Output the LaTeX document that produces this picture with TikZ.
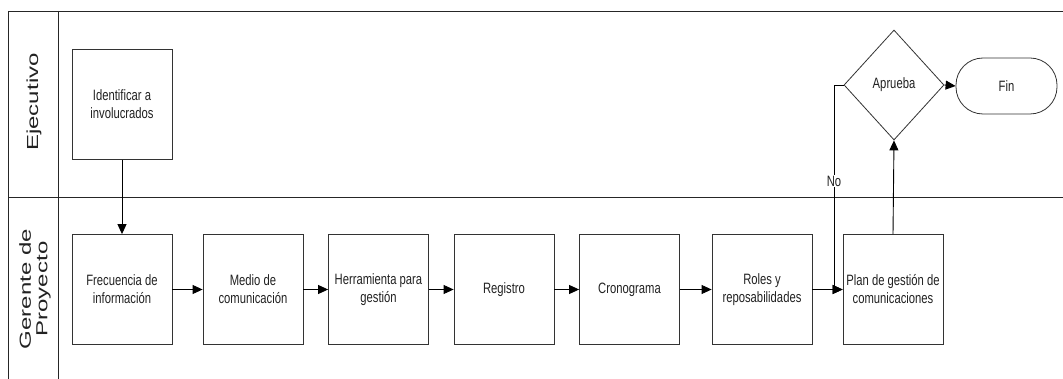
\documentclass[tikz,border=0pt]{standalone}
\usepackage{fontspec}
\setmainfont{Liberation Sans}
\newfontfamily\narrowfont[FakeStretch=0.75]{Liberation Sans}
\newfontfamily\lanefont[FakeStretch=1.5]{Liberation Sans}
\usetikzlibrary{shapes.geometric,arrows.meta}
\definecolor{edgegray}{HTML}{333333}
\definecolor{txtgray}{HTML}{222222}
\tikzset{
  stepbox/.style={draw=edgegray, line width=0.8pt, minimum width=100pt, minimum height=110pt, inner sep=0pt,
    align=center, text=txtgray, font=\narrowfont\fontsize{15}{18}\selectfont},
  decisionbox/.style={draw=edgegray, line width=0.8pt, diamond, minimum width=100pt, minimum height=110pt, inner sep=0pt,
    align=center, text=txtgray, font=\narrowfont\fontsize{15}{18}\selectfont},
  endbox/.style={draw=edgegray, line width=0.8pt, rounded corners=27pt, minimum width=101pt, minimum height=56pt, inner sep=0pt,
    align=center, text=txtgray, font=\narrowfont\fontsize{15}{18}\selectfont},
  lanelabel/.style={rotate=90, align=center, text=txtgray, font=\lanefont\fontsize{16}{16.5}\selectfont},
  laneline/.style={draw=black!85, line width=0.9pt},
  flow/.style={draw=black, line width=0.9pt, -{Triangle[length=10pt,width=9pt]}},
  flowlabel/.style={fill=white, inner sep=1pt, text=txtgray, font=\narrowfont\fontsize{15}{18}\selectfont}
}
\begin{document}
\begin{tikzpicture}[x=1pt,y=-1pt]
\useasboundingbox (0,0) rectangle (1063,379);
\fill[white] (0,0) rectangle (1063,379);
% lanes
\coordinate (tl) at (8,11);
\coordinate (tr) at (1063,11);
\coordinate (bl) at (8,379);
\coordinate (hdt) at (58,11);
\coordinate (hdb) at (58,379);
\coordinate (ml) at (8,197);
\coordinate (mr) at (1063,197);
\draw[laneline] (tl) -- (tr);
\draw[laneline] (tl) -- (bl);
\draw[laneline] (hdt) -- (hdb);
\draw[laneline] (ml) -- (mr);
\node[lanelabel] (lane1) at (34,102) {Ejecutivo};
\node[lanelabel] (lane2) at (35,289) {Gerente de\\Proyecto};
% nodes
\node[stepbox] (ident) at (122,104.5) {Identificar a\\involucrados};
\node[stepbox] (frec) at (122,289.5) {Frecuencia de\\información};
\node[stepbox] (medio) at (253,289.5) {Medio de\\comunicación};
\node[stepbox] (herr) at (378.5,289.5) {Herramienta para\\gestión};
\node[stepbox] (reg) at (504,289.5) {Registro};
\node[stepbox] (crono) at (629.5,289.5) {Cronograma};
\node[stepbox] (roles) at (762,289.5) {Roles y\\reposabilidades};
\node[stepbox] (plan) at (893,289.5) {Plan de gestión de\\comunicaciones};
\node[decisionbox] (aprueba) at (894,85) {Aprueba};
\node[endbox] (fin) at (1006.5,86) {Fin};
% connectors
\draw[flow] (ident) -- (frec);
\draw[flow] (frec) -- (medio);
\draw[flow] (medio) -- (herr);
\draw[flow] (herr) -- (reg);
\draw[flow] (reg) -- (crono);
\draw[flow] (crono) -- (roles);
\draw[flow] (roles) -- (plan);
\draw[flow] (plan.north) -- (aprueba.south);
\draw[flow] (aprueba.east) -- (fin.west);
\coordinate (nobend) at (834,85);
\coordinate (nodown) at (834,289.5);
\draw[flow] (aprueba.west) -- (nobend) -- (nodown) -- (plan.west);
\node[flowlabel] (nolabel) at (834,181) {No};
\end{tikzpicture}
\end{document}
